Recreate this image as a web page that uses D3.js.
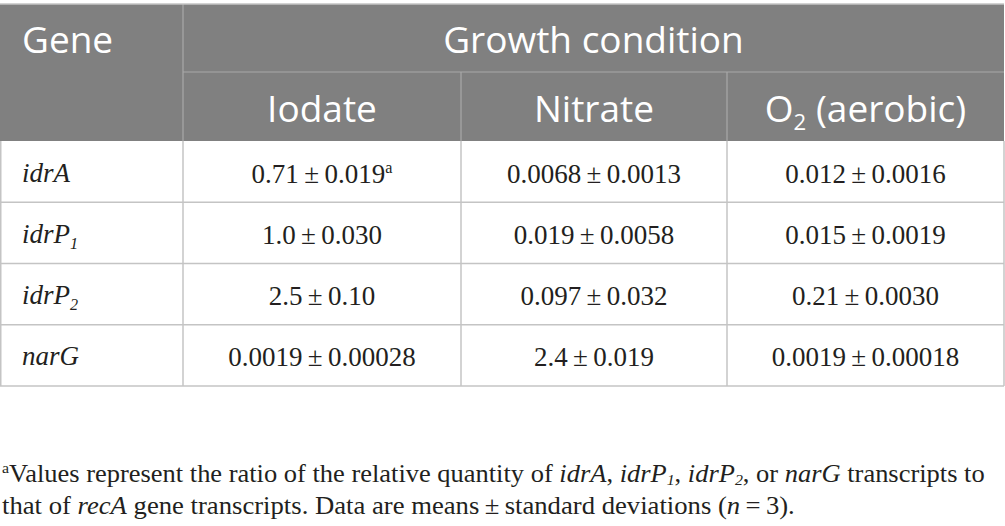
<!DOCTYPE html>
<html>
<head>
<meta charset="utf-8">
<script src="https://cdn.jsdelivr.net/npm/d3@7"></script>
<style>
  body { margin: 0; background: #fff; }
  svg { display: block; }
</style>
</head>
<body>
<div id="div_table"></div>
<script>
// table data
var genes = ["idrA", "idrP1", "idrP2", "narG"];
var conditions = ["Iodate", "Nitrate", "O2 (aerobic)"];
var iodateMean = ["0.71", "1.0", "2.5", "0.0019"];
var iodateSD = ["0.019", "0.030", "0.10", "0.00028"];
var nitrateMean = ["0.0068", "0.019", "0.097", "2.4"];
var nitrateSD = ["0.0013", "0.0058", "0.032", "0.019"];
var o2Mean = ["0.012", "0.015", "0.21", "0.0019"];
var o2SD = ["0.0016", "0.0019", "0.0030", "0.00018"];

var width = 1005, height = 526;
var headFont = "'Open Sans', 'Noto Sans', sans-serif";
var bodyFont = "'Liberation Serif', 'DejaVu Serif', serif";
var headBg = "#808080";
var lineColor = "#c4c4c4";
var inkColor = "#231f20";
var bodySize = 27, headSize = 37, footSize = 25;

// rich text helper: parts = [{t:'..', i:true, sub:true, sup:true}]
function addRich(textSel, parts, size, subShift)
{
    var shift = 0;
    var subDy = (subShift == undefined) ? 0.22 : subShift;
    parts.forEach(function(p){
        var want = 0;
        if (p.sub) { want = size * subDy; }
        if (p.sup) { want = -size * 0.36; }
        var t = textSel.append("tspan").text(p.t);
        if (want - shift != 0) { t.attr("dy", want - shift); }
        shift = want;
        if (p.sub || p.sup) { t.attr("font-size", size * 0.6); }
        if (p.i) { t.attr("font-style", "italic"); }
    });
}

// gene name -> parts (idrP1 -> idrP + subscript 1)
function geneParts(g)
{
    var m = g.match(/^(.*P)(\d)$/);
    if (m) { return [{t: m[1], i: true}, {t: m[2], i: true, sub: true}]; }
    return [{t: g, i: true}];
}

var svg = d3.select("#div_table").append("svg")
    .attr("width", width)
    .attr("height", height);

// layout
var colEdges = [0, 183, 461, 727, 1004];
var headTop = 4, headMid = 72, headBottom = 141, tableBottom = 386;

var y = d3.scaleBand()
    .domain(genes)
    .range([headBottom, tableBottom]);

var x = d3.scaleOrdinal()
    .domain(conditions)
    .range([0, 1, 2].map(function(i){ return (colEdges[i + 1] + colEdges[i + 2]) / 2; }));

// header background
svg.append("rect")
    .attr("x", 0).attr("y", headTop)
    .attr("width", colEdges[4]).attr("height", headBottom - headTop)
    .attr("fill", headBg);

// header lines
svg.append("line")
    .attr("x1", colEdges[1]).attr("x2", colEdges[4])
    .attr("y1", headMid).attr("y2", headMid)
    .attr("stroke", "#a8a8a8").attr("stroke-width", 1.2);
svg.selectAll(".vhead")
    .data([2, 3])
    .enter().append("line")
    .attr("x1", function(d){ return colEdges[d]; })
    .attr("x2", function(d){ return colEdges[d]; })
    .attr("y1", headMid).attr("y2", headBottom)
    .attr("stroke", "#a8a8a8").attr("stroke-width", 1.2);
svg.append("line")
    .attr("x1", colEdges[1]).attr("x2", colEdges[1])
    .attr("y1", headTop).attr("y2", headBottom)
    .attr("stroke", "#a8a8a8").attr("stroke-width", 1.2);

// body lines
svg.selectAll(".hrow")
    .data(genes)
    .enter().append("line")
    .attr("x1", 0).attr("x2", colEdges[4])
    .attr("y1", function(d){ return y(d) + y.bandwidth(); })
    .attr("y2", function(d){ return y(d) + y.bandwidth(); })
    .attr("stroke", lineColor).attr("stroke-width", 1.5);
svg.selectAll(".vbody")
    .data([0, 1, 2, 3, 4])
    .enter().append("line")
    .attr("x1", function(d){ return colEdges[d] + (d == 0 ? 0.75 : 0); })
    .attr("x2", function(d){ return colEdges[d] + (d == 0 ? 0.75 : 0); })
    .attr("y1", headBottom).attr("y2", tableBottom)
    .attr("stroke", lineColor).attr("stroke-width", 1.5);
// outer top
svg.append("line")
    .attr("x1", 0).attr("x2", colEdges[4])
    .attr("y1", headTop).attr("y2", headTop)
    .attr("stroke", lineColor).attr("stroke-width", 1.5);

// header text
svg.append("text")
    .attr("x", 22).attr("y", 53)
    .attr("font-family", headFont).attr("font-size", headSize)
    .attr("fill", "#fff")
    .text("Gene");
svg.append("text")
    .attr("x", (colEdges[1] + colEdges[4]) / 2).attr("y", 53)
    .attr("text-anchor", "middle")
    .attr("font-family", headFont).attr("font-size", headSize)
    .attr("fill", "#fff")
    .text("Growth condition");
svg.selectAll(".condlabel")
    .data(conditions)
    .enter().append("text")
    .attr("x", function(d){ return x(d); })
    .attr("y", 122)
    .attr("text-anchor", "middle")
    .attr("font-family", headFont).attr("font-size", headSize)
    .attr("fill", "#fff")
    .each(function(d){
        var m = d.match(/^O2(.*)$/);
        if (m) {
            addRich(d3.select(this), [{t: "O"}, {t: "2", sub: true}, {t: m[1]}], headSize);
        } else {
            d3.select(this).text(d);
        }
    });

// gene labels
svg.selectAll(".genelabel")
    .data(genes)
    .enter().append("text")
    .attr("x", 22)
    .attr("y", function(d){ return y(d) + y.bandwidth() / 2 + 10; })
    .attr("font-family", bodyFont).attr("font-size", bodySize)
    .attr("fill", inkColor)
    .each(function(d){ addRich(d3.select(this), geneParts(d), bodySize); });

// cells
var cellRows = [];
var means = [iodateMean, nitrateMean, o2Mean];
var sds = [iodateSD, nitrateSD, o2SD];
conditions.forEach(function(c, ci){
    genes.forEach(function(g, gi){
        cellRows.push({cond: c, gene: g, mean: means[ci][gi], sd: sds[ci][gi], note: (ci == 0 && gi == 0) ? "a" : ""});
    });
});

svg.selectAll(".cell")
    .data(cellRows)
    .enter().append("text")
    .attr("x", function(d){ return x(d.cond); })
    .attr("y", function(d){ return y(d.gene) + y.bandwidth() / 2 + 11; })
    .attr("text-anchor", "middle")
    .attr("font-family", bodyFont).attr("font-size", bodySize)
    .attr("fill", inkColor)
    .each(function(d){
        var parts = [{t: d.mean + "\u2009\u00b1\u2009" + d.sd}];
        if (d.note) { parts.push({t: d.note, sup: true}); }
        addRich(d3.select(this), parts, bodySize);
    });

// footnote
var footLines = [
    [{t: "a", sup: true}, {t: "Values represent the ratio of the relative quantity of "}, {t: "idrA", i: true}, {t: ", "},
     {t: "idrP", i: true}, {t: "1", i: true, sub: true}, {t: ", "}, {t: "idrP", i: true}, {t: "2", i: true, sub: true},
     {t: ", or "}, {t: "nar", i: true}, {t: "G", i: true}, {t: " transcripts to"}],
    [{t: "that of "}, {t: "recA", i: true}, {t: " gene transcripts. Data are means\u2009\u00b1\u2009standard deviations ("},
     {t: "n", i: true}, {t: "\u2009=\u20093)."}]
];
var footBase = [482, 514];
var footWidth = [983, 793];

footLines.forEach(function(parts, li){
    var g = svg.append("g");
    var t = g.append("text")
        .attr("x", 0).attr("y", 0)
        .attr("font-family", bodyFont).attr("font-size", footSize)
        .attr("fill", inkColor);
    addRich(t, parts, footSize, 0.12);
    var w = t.node().getComputedTextLength();
    var sx = footWidth[li] / w;
    g.attr("transform", "translate(2," + footBase[li] + ") scale(" + sx + ",1)");
});
</script>
</body>
</html>
